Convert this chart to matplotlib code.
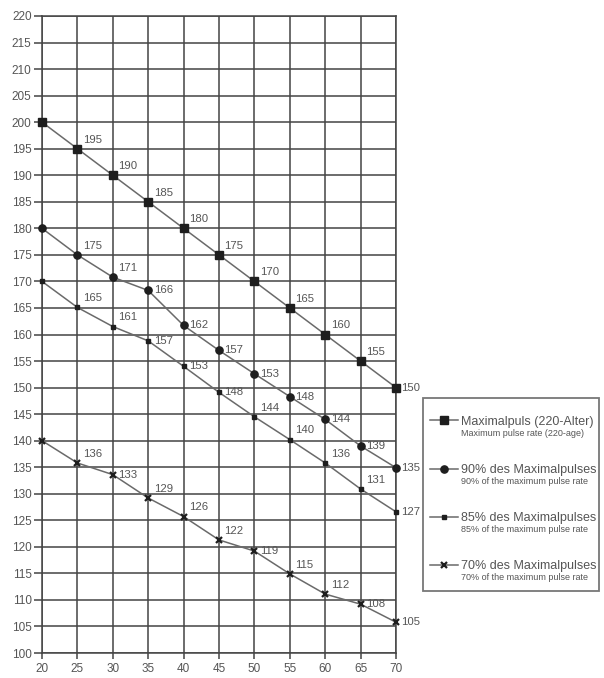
import matplotlib
matplotlib.use("Agg")
from matplotlib import pyplot as plt
from matplotlib.patches import Rectangle

plt.rcParams['font.family'] = ['Liberation Sans', 'DejaVu Sans']

# Data
ages = [20, 25, 30, 35, 40, 45, 50, 55, 60, 65, 70]

max_vals = [200, 195, 190, 185, 180, 175, 170, 165, 160, 155, 150]
p90_vals = [180, 175, 170.8, 168.3, 161.7, 157, 152.6, 148.3, 144, 139, 134.9]
p85_vals = [170, 165.1, 161.5, 158.8, 154, 149.1, 144.5, 140.2, 135.8, 130.9, 126.6]
p70_vals = [140, 135.8, 133.6, 129.2, 125.7, 121.3, 119.2, 114.9, 111.1, 109.2, 105.8]

max_labels = ["", "195", "190", "185", "180", "175", "170", "165", "160", "155", "150"]
p90_labels = ["", "175", "171", "166", "162", "157", "153", "148", "144", "139", "135"]
p85_labels = ["", "165", "161", "157", "153", "148", "144", "140", "136", "131", "127"]
p70_labels = ["", "136", "133", "129", "126", "122", "119", "115", "112", "108", "105"]

series_names = ["Maximalpuls (220-Alter)", "90% des Maximalpulses",
                "85% des Maximalpulses", "70% des Maximalpulses"]
series_sub = ["Maximum pulse rate (220-age)", "90% of the maximum pulse rate",
              "85% of the maximum pulse rate", "70% of the maximum pulse rate"]

# label placement: 'u' = up-right, 'r' = right at marker level
max_place = ["", "u", "u", "u", "u", "u", "u", "u", "u", "u", "r"]
p90_place = ["", "u", "u", "r", "r", "r", "r", "r", "r", "r", "r"]
p85_place = ["", "u", "u", "r", "r", "r", "u", "u", "u", "u", "r"]
p70_place = ["", "u", "r", "u", "u", "u", "r", "u", "u", "r", "r"]

fig = plt.figure(figsize=[6.04, 6.78], dpi=100)
ax = fig.add_axes([42/604, 1-653/678, (396-42)/604, (653-16)/678])

line_col = "#6a6a6a"
mark_col = "#1e1e1e"
grid_col = "#444444"
text_col = "#555555"

styles = [
    dict(marker="s", ms=5.2),
    dict(marker="o", ms=5.2),
    dict(marker="s", ms=2.6),
    dict(marker="x", ms=4.5, mew=1.6),
]
all_vals = [max_vals, p90_vals, p85_vals, p70_vals]
all_labels = [max_labels, p90_labels, p85_labels, p70_labels]
all_place = [max_place, p90_place, p85_place, p70_place]

handles = []
for vals, st in zip(all_vals, styles):
    h, = ax.plot(ages, vals, color=line_col, lw=1.1, mfc=mark_col, mec=mark_col,
                 zorder=3, clip_on=False, **st)
    handles.append(h)

for vals, labs, places in zip(all_vals, all_labels, all_place):
    for x, y, lab, pl in zip(ages, vals, labs, places):
        if not lab:
            continue
        if pl == "u":
            off, va = (4, 3), "bottom"
        else:
            off, va = (4, 0), "center"
        ax.annotate(lab, (x, y), xytext=off, textcoords="offset points",
                    fontsize=8.2, color=text_col, ha="left", va=va, zorder=4,
                    annotation_clip=False)

ax.set_xlim(20, 70)
ax.set_ylim(100, 220)
ax.set_xticks(range(20, 71, 5))
ax.set_yticks(range(100, 221, 5))
ax.grid(True, color=grid_col, lw=1.1)
ax.set_axisbelow(True)
for sp in ax.spines.values():
    sp.set_color(grid_col)
    sp.set_linewidth(1.1)
ax.tick_params(axis="both", colors=grid_col, labelcolor=text_col, labelsize=8.5,
               length=6, width=1.1, pad=1.5)
ax.tick_params(axis="x", length=4, pad=3)

# legend box and entries
fig.patches.append(Rectangle((423/604, 1-591/678), (599-423)/604, (591-398)/678,
                             transform=fig.transFigure, fill=False,
                             ec="#777777", lw=1.3))
leg = fig.legend(handles, series_names, loc="center left",
                 bbox_to_anchor=(430/604, 1-494/678), frameon=False,
                 fontsize=9, labelcolor=text_col, handlelength=2.2,
                 handletextpad=0.3, labelspacing=2.9, borderpad=0,
                 borderaxespad=0)

# small english subtitles under each legend label
fig.canvas.draw()
inv = fig.transFigure.inverted()
for txt, sub in zip(leg.get_texts(), series_sub):
    bb = txt.get_window_extent()
    x0, y0 = inv.transform((bb.x0, bb.y0 - 1))
    fig.text(x0, y0, sub, fontsize=6.5, color=text_col, ha="left", va="top")

fig.savefig("out.png", dpi=100)
